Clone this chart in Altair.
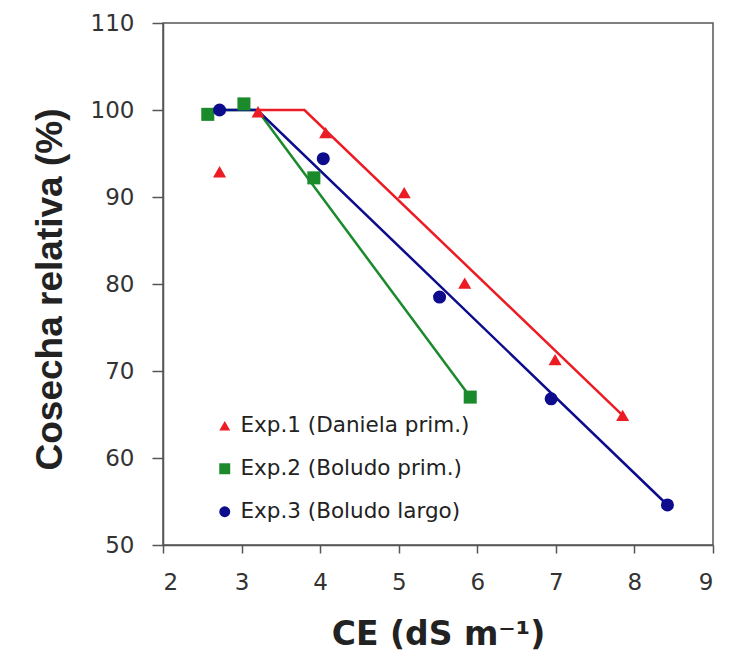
import altair as alt
import pandas as pd

series_names = ["Exp.1 (Daniela prim.)", "Exp.2 (Boludo prim.)", "Exp.3 (Boludo largo)"]
colors = ["#ec1c24", "#1b8a2b", "#0c0c8c"]
shapes = ["triangle-up", "square", "circle"]

# observed points
exp1_x = [2.72, 3.21, 4.07, 5.07, 5.84, 6.99, 7.85]
exp1_y = [92.9, 99.8, 97.4, 90.5, 80.1, 71.3, 64.9]
exp2_x = [2.57, 3.03, 3.92, 5.91]
exp2_y = [99.5, 100.7, 92.2, 67.0]
exp3_x = [2.72, 4.04, 5.52, 6.94, 8.42]
exp3_y = [100.0, 94.4, 78.5, 66.8, 54.6]

# fitted threshold-slope lines
exp1_line_x = [3.2, 3.8, 7.85]
exp1_line_y = [100, 100, 64.9]
exp2_line_x = [2.57, 3.2, 5.91]
exp2_line_y = [100, 100, 67.0]
exp3_line_x = [2.72, 3.2, 8.42]
exp3_line_y = [100, 100, 54.6]

x_ticks = [2, 3, 4, 5, 6, 7, 8, 9]
y_ticks = [50, 60, 70, 80, 90, 100, 110]

pts = []
for name, xs, ys in zip(series_names, [exp1_x, exp2_x, exp3_x], [exp1_y, exp2_y, exp3_y]):
    for a, b in zip(xs, ys):
        pts.append({"series": name, "x": a, "y": b})
points = pd.DataFrame(pts)

lns = []
for name, xs, ys in zip(series_names, [exp1_line_x, exp2_line_x, exp3_line_x],
                        [exp1_line_y, exp2_line_y, exp3_line_y]):
    for i, (a, b) in enumerate(zip(xs, ys)):
        lns.append({"series": name, "x": a, "y": b, "o": i})
lines = pd.DataFrame(lns)

TICKFONT = "DejaVu Sans"
xs_ = alt.Scale(domain=[2, 9], nice=False)
ys_ = alt.Scale(domain=[50, 110], nice=False, zero=False)
color_scale = alt.Scale(domain=series_names, range=colors)
shape_scale = alt.Scale(domain=series_names, range=shapes)
# line colours: data-driven (sorted) domain, same order as series_names
line_scale = alt.Scale(range=colors)

x_axis = alt.Axis(values=x_ticks, format="d", title="CE (dS m⁻¹)", grid=False, tickSize=8,
                  labelFontSize=23, labelFont=TICKFONT, labelColor="#333", labelPadding=18,
                  titleFont="DejaVu Sans", titleFontSize=33, titleFontWeight="bold", titleColor="#222",
                  titleX=275, titleY=99, titleBaseline="alphabetic", titleAlign="center",
                  domainColor="#555", tickColor="#555", domainWidth=1.5, tickWidth=1.5)
y_axis = alt.Axis(values=y_ticks, title="Cosecha relativa (%)", grid=False, tickSize=11,
                  labelFontSize=23, labelFont=TICKFONT, labelColor="#333", labelPadding=18,
                  titleFont="Liberation Sans", titleFontSize=37, titleFontWeight="bold", titleColor="#222",
                  titleX=-113, titleY=266, titleAlign="center", titleBaseline="middle",
                  domainColor="#555", tickColor="#555", domainWidth=1.5, tickWidth=1.5)

line_layer = alt.Chart(lines).mark_line(strokeWidth=2.5).encode(
    x=alt.X("x:Q", scale=xs_, axis=x_axis),
    y=alt.Y("y:Q", scale=ys_, axis=y_axis),
    stroke=alt.Stroke("series:N", scale=line_scale, legend=None),
    detail="series:N",
    order="o:Q",
)

legend = alt.Legend(orient="none", legendX=51, legendY=392,
                    labelFontSize=21.5, labelFont=TICKFONT, labelColor="#222", labelLimit=0,
                    symbolSize=120, rowPadding=20, labelOffset=5)

point_layer = alt.Chart(points).mark_point(filled=True, opacity=1, size=170).encode(
    x=alt.X("x:Q", scale=xs_),
    y=alt.Y("y:Q", scale=ys_),
    color=alt.Color("series:N", scale=color_scale, legend=legend, title=None),
    shape=alt.Shape("series:N", scale=shape_scale, legend=legend, title=None),
)

chart = alt.layer(line_layer, point_layer).properties(
    width=550, height=522,
    autosize=alt.AutoSizeParams(type="none"),
    padding={"left": 163, "top": 23, "right": 21, "bottom": 106},
    background="white",
).configure_view(stroke="#555", strokeWidth=1.5).configure_legend(padding=0)

chart.save("out.html", embed_options={"renderer": "svg", "actions": False})
